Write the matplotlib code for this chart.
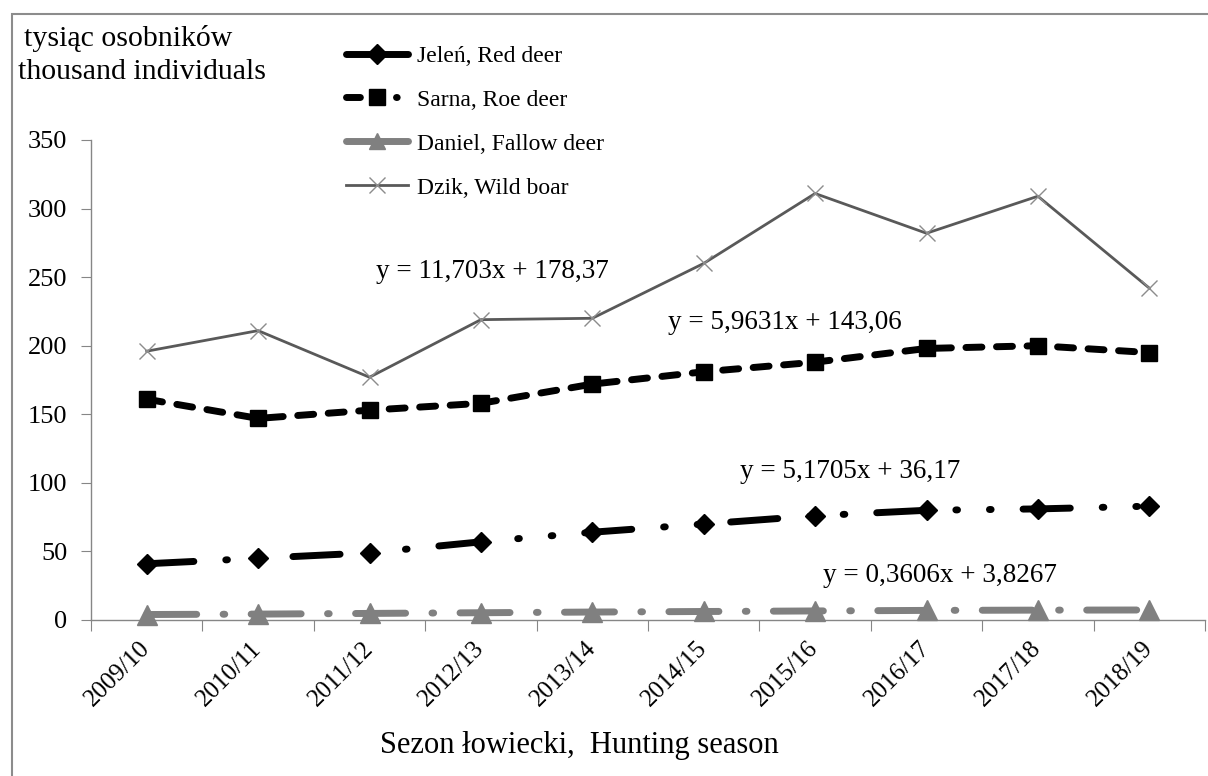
import matplotlib
matplotlib.use('Agg')
import matplotlib.pyplot as plt
from matplotlib.lines import Line2D
from matplotlib.patches import Rectangle

plt.rcParams['font.family'] = ['Liberation Serif', 'DejaVu Serif']
plt.rcParams['lines.scale_dashes'] = False

seasons = ['2009/10', '2010/11', '2011/12', '2012/13', '2013/14',
           '2014/15', '2015/16', '2016/17', '2017/18', '2018/19']
jelen = [41, 45, 49, 57, 64, 70, 76, 80, 81, 83]
sarna = [161, 147, 153, 158, 172, 181, 188, 198, 200, 195]
daniel = [4.0, 4.3, 4.8, 5.3, 5.8, 6.2, 6.6, 7.0, 7.2, 7.3]
dzik = [196, 211, 177, 219, 220, 260, 311, 282, 309, 242]

labels = ['Jeleń, Red deer', 'Sarna, Roe deer', 'Daniel, Fallow deer', 'Dzik, Wild boar']
trend_eqs = ['y = 11,703x + 178,37', 'y = 5,9631x + 143,06',
             'y = 5,1705x + 36,17', 'y = 0,3606x + 3,8267']

W, H = 1208, 776
fig = plt.figure(figsize=(W / 100, H / 100), dpi=100)
ax = fig.add_axes([91 / W, 1 - 620 / H, (1205 - 91) / W, (620 - 140) / H])

x = list(range(len(seasons)))
lw = 5
gray = '#808080'
ax.plot(x, jelen, color='black', lw=lw, dashes=(34, 23, 1.2, 23, 1.2, 23),
        dash_capstyle='round', marker='D', ms=10, zorder=4)
ax.plot(x, sarna, color='black', lw=lw, dashes=(11.5, 10.5),
        dash_capstyle='round', marker='s', ms=12, zorder=4)
ax.plot(x, daniel, color=gray, lw=lw, dashes=(36, 19, 1.2, 19),
        dash_capstyle='round', marker='^', ms=15, zorder=3, clip_on=False)
ax.plot(x, dzik, color='#595959', lw=2.0, marker='x', ms=11, mew=1.0,
        mec='#8c8c8c', zorder=3)

ax.set_xlim(-0.5, len(seasons) - 0.5)
ax.set_ylim(0, 350)
ax.set_yticks(range(0, 351, 50))
ax.tick_params(axis='y', length=7, color='#868686', labelsize=19, pad=10)

# category boundaries get the tick marks, labels sit between them
ax.set_xticks([i - 0.5 for i in range(len(seasons) + 1)])
ax.set_xticklabels([])
ax.set_xticks(x, minor=True)
ax.set_xticklabels(seasons, minor=True, rotation=45, ha='right', va='center',
                   rotation_mode='anchor', fontsize=18)
ax.tick_params(axis='x', which='major', length=8, color='#868686')
ax.tick_params(axis='x', which='minor', length=0, pad=18)

for side in ['top', 'right']:
    ax.spines[side].set_visible(False)
for side in ['left', 'bottom']:
    ax.spines[side].set_color('#868686')
    ax.spines[side].set_linewidth(1.0)

# trendline equations
eq_pos = [(376, 272), (668, 322), (740, 472), (823, 575)]
for eq, (px, py) in zip(trend_eqs, eq_pos):
    fig.text(px / W, 1 - py / H, eq, fontsize=19.5, ha='left', va='center')

fig.text(24 / W, 1 - 39 / H, 'tysiąc osobników', fontsize=21.5, ha='left', va='center')
fig.text(18 / W, 1 - 72 / H, 'thousand individuals', fontsize=21.5, ha='left', va='center')
fig.text(380 / W, 1 - 745 / H, 'Sezon łowiecki,  Hunting season', fontsize=22,
         ha='left', va='center')

# legend keys: short samples of each line style
handles = [
    Line2D([], [], color='black', lw=lw, solid_capstyle='round', marker='D', ms=10),
    Line2D([], [], color='black', lw=lw, dashes=(10, 26, 0.5, 20), dash_capstyle='round',
           marker='s', ms=12),
    Line2D([], [], color=gray, lw=lw, solid_capstyle='round', marker='^', ms=12),
    Line2D([], [], color='#595959', lw=2.0, marker='x', ms=11, mew=1.0, mec='#8c8c8c'),
]
fig.legend(handles=handles, labels=labels, loc='upper left',
           bbox_to_anchor=(325 / W, 1 - 24 / H), frameon=False, fontsize=17,
           handlelength=2.6, handletextpad=0.4, labelspacing=0.95, numpoints=1)

fig.patches.append(Rectangle((12 / W, -0.1), 1.2, 1 - 14 / H + 0.1,
                             transform=fig.transFigure, fill=False,
                             ec='#8c8c8c', lw=1.5))

fig.savefig('out.png', dpi=100)
